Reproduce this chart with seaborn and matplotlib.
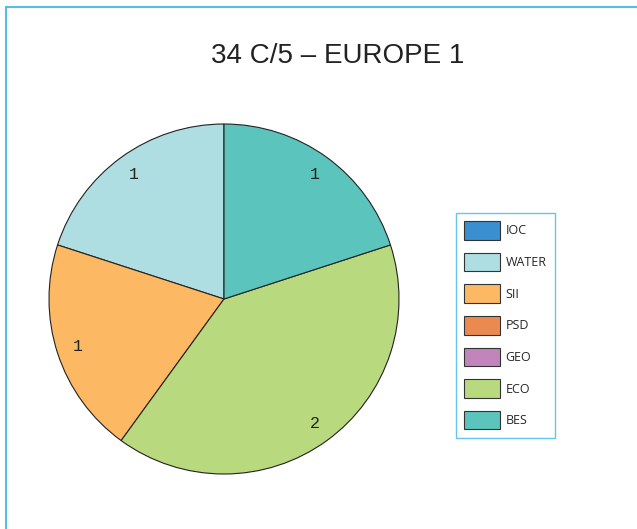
import matplotlib
matplotlib.use("Agg")
import matplotlib.pyplot as plt
import seaborn as sns
from matplotlib.patches import Patch
from matplotlib.lines import Line2D

sns.set_style("white")
plt.rcParams['font.family'] = ['DejaVu Sans']

categories = ["IOC", "WATER", "SII", "PSD", "GEO", "ECO", "BES"]
values = [0, 1, 1, 0, 0, 2, 1]
colors = ["#3a8fd0", "#aedde2", "#fdb863", "#eb8a50", "#c285bb", "#b8d97e", "#5bc5bd"]
title = "34 C/5 – EUROPE 1"

W, H = 637, 529
fig = plt.figure(figsize=(W / 100, H / 100), dpi=100)

# frame lines (left and top)
fig.add_artist(Line2D([5.5 / W, 5.5 / W], [0, 1 - 7 / H], color="#3fb7e8", lw=1.3, transform=fig.transFigure))
fig.add_artist(Line2D([5.5 / W, 1], [1 - 7 / H, 1 - 7 / H], color="#3fb7e8", lw=1.3, transform=fig.transFigure))

fig.text(338 / W, 1 - 56 / H, title, ha="center", va="center", fontsize=20,
         family=["Liberation Sans", "DejaVu Sans"], color="#222222")

cx, cy, r = 224, 299, 175
ax = fig.add_axes([(cx - r) / W, 1 - (cy + r) / H, 2 * r / W, 2 * r / H])
nz = [(v, c) for v, c in zip(values, colors) if v > 0]
pv = [v for v, _ in nz]
pc = [c for _, c in nz]
wedges, texts = ax.pie(pv, colors=pc, startangle=90, labels=[str(v) for v in pv],
                       labeldistance=0.88,
                       wedgeprops=dict(edgecolor="#222222", linewidth=0.8),
                       textprops=dict(fontsize=12, family=["Liberation Mono", "DejaVu Sans Mono"], color="#222222"))
for t in texts:
    t.set_ha("center")
    t.set_va("center")
ax.set_xlim(-1, 1)
ax.set_ylim(-1, 1)
ax.set_aspect("equal")
ax.axis("off")

handles = [Patch(facecolor=c, edgecolor="#333333", linewidth=0.8) for c in colors]
leg = fig.legend(handles, categories, loc="upper left",
                 bbox_to_anchor=(456 / W, 1 - 213 / H), bbox_transform=fig.transFigure,
                 frameon=True, fancybox=False,
                 handlelength=2.9, handleheight=1.9, labelspacing=1.05,
                 handletextpad=0.4, borderpad=0.65, borderaxespad=0,
                 prop=dict(family=["Open Sans", "DejaVu Sans"], size=9))
leg.get_frame().set_edgecolor("#3fb7e8")
leg.get_frame().set_linewidth(1.0)

fig.savefig("out.png", dpi=100)
